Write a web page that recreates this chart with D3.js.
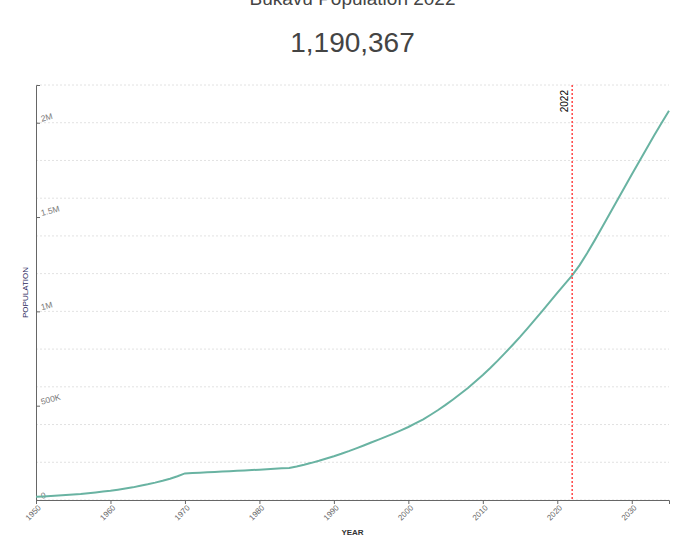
<!DOCTYPE html>
<html>
<head>
<meta charset="utf-8">
<script src="https://cdn.jsdelivr.net/npm/d3@7"></script>
<style>
  html, body { margin: 0; padding: 0; background: #fff; }
  svg { display: block; font-family: "Liberation Sans", Arial, Helvetica, sans-serif; }
</style>
</head>
<body>
<svg id="chart" width="687" height="536"></svg>
<script>
// ---- data ----
const titleText = "Bukavu Population 2022";
const headlineValue = 1190367;
const markerYear = 2022;

const years = d3.range(1950, 2036);
const population = [
  17000, 19000, 21000, 23500, 26000, 29000, 32000, 36000, 40000, 44500,
  49000, 54500, 60500, 67000, 75000, 83000, 92000, 102000, 113000, 126000,
  141000, 143000, 145000, 147000, 149000, 151000, 153000, 155000, 157000, 159000,
  161000, 163000, 165500, 168000, 170000, 178000, 187000, 197000, 208000, 220000,
  232000, 245000, 259000, 274000, 289000, 305000, 320000, 336000, 352000, 369000,
  387000, 407000, 428000, 452000, 477000, 504000, 533000, 563000, 594000, 628000,
  663000, 700000, 739000, 780000, 822000, 865000, 910000, 956000, 1003000, 1050000,
  1098000, 1144000, 1190367, 1245000, 1308000, 1375000, 1445000, 1515000, 1585000, 1655000,
  1725000, 1795000, 1864000, 1932000, 1999000, 2064000
];
const xTickValues = [1950, 1960, 1970, 1980, 1990, 2000, 2010, 2020, 2030];
const yTickValues = [0, 500000, 1000000, 1500000, 2000000];
const yTickLabels = ["0", "500K", "1M", "1.5M", "2M"];
const yDomainMax = 2200000;

const data = years.map((yr, i) => ({ year: yr, value: population[i] }));

// ---- layout ----
const svg = d3.select("#chart");
const mLeft = 36, mRight = 669, mTop = 85, mBottom = 500;

const x = d3.scaleLinear().domain([1950, 2035]).range([mLeft, mRight]);
const y = d3.scaleLinear().domain([0, yDomainMax]).range([mBottom, mTop]);

// grid lines
svg.append("g")
  .selectAll("line")
  .data(y.ticks(10))
  .join("line")
  .attr("x1", mLeft).attr("x2", mRight)
  .attr("y1", d => y(d)).attr("y2", d => y(d))
  .attr("stroke", "#e2e2e2")
  .attr("stroke-width", 1)
  .attr("stroke-dasharray", "2,2");

// x axis
const xAxis = svg.append("g")
  .attr("transform", `translate(0,${mBottom})`)
  .call(d3.axisBottom(x).tickValues(xTickValues).tickFormat(d3.format("d")).tickSize(4));
xAxis.select(".domain").attr("stroke", "#666");
xAxis.selectAll(".tick line").attr("stroke", "#666");
xAxis.selectAll("text")
  .attr("fill", "#666")
  .style("font-size", "8px")
  .attr("text-anchor", "end")
  .attr("dx", "-0.3em")
  .attr("dy", "0.3em")
  .attr("transform", "rotate(-45)");

// y axis (ticks to the right, labels inside)
const yAxis = svg.append("g")
  .attr("transform", `translate(${mLeft},0)`)
  .call(d3.axisRight(y).tickValues(yTickValues)
    .tickFormat((d, i) => yTickLabels[i]).tickSize(4).tickSizeOuter(4));
yAxis.select(".domain").attr("stroke", "#666");
yAxis.selectAll(".tick line").attr("stroke", "#666");
yAxis.selectAll("text")
  .attr("fill", "#777")
  .style("font-size", "8.5px")
  .attr("x", 6)
  .attr("dy", "0")
  .attr("transform", "rotate(-15)");

// line
svg.append("path")
  .datum(data)
  .attr("fill", "none")
  .attr("stroke", "#69b3a2")
  .attr("stroke-width", 2)
  .attr("d", d3.line().x(d => x(d.year)).y(d => y(d.value)));

// marker line
svg.append("line")
  .attr("x1", x(markerYear)).attr("x2", x(markerYear))
  .attr("y1", mTop).attr("y2", mBottom)
  .attr("stroke", "#f44")
  .attr("stroke-width", 1.5)
  .attr("stroke-dasharray", "2,2");

svg.append("text")
  .attr("transform", `translate(${x(markerYear) - 4.5},${mTop + 5}) rotate(-90)`)
  .attr("text-anchor", "end")
  .style("font-size", "10px")
  .attr("fill", "#000")
  .text(String(markerYear));

// titles
const cx = (mLeft + mRight) / 2;
svg.append("text")
  .attr("x", cx).attr("y", 5)
  .attr("text-anchor", "middle")
  .style("font-size", "19px")
  .attr("fill", "#444")
  .text(titleText);

svg.append("text")
  .attr("x", cx).attr("y", 52)
  .attr("text-anchor", "middle")
  .style("font-size", "28px")
  .attr("fill", "#444")
  .text(d3.format(",")(headlineValue));

// axis titles
svg.append("text")
  .attr("x", cx).attr("y", 535)
  .attr("text-anchor", "middle")
  .style("font-size", "8px")
  .style("font-weight", "bold")
  .attr("fill", "#333")
  .text("YEAR");

svg.append("text")
  .attr("transform", `translate(28,${(mTop + mBottom) / 2}) rotate(-90)`)
  .attr("text-anchor", "middle")
  .style("font-size", "8px")
  .attr("fill", "#2e2a5e")
  .text("POPULATION");
</script>
</body>
</html>
